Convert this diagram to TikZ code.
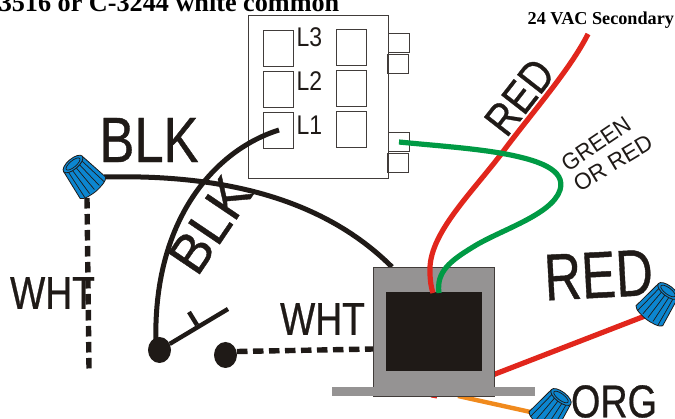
\documentclass[tikz,border=0pt]{standalone}
\usepackage{fontspec}
\usepackage{graphicx}
\setmainfont{Liberation Serif}
\newfontfamily\lsans{Liberation Sans}
\newfontfamily\lsansh[FakeBold=0.7]{Liberation Sans}
\usetikzlibrary{shapes.geometric}
\definecolor{ink}{HTML}{1F1A17}
\definecolor{wred}{HTML}{E1261C}
\definecolor{wgreen}{HTML}{009A44}
\definecolor{worange}{HTML}{F08A1D}
\definecolor{nutblue}{HTML}{0C86D0}
\definecolor{tgrey}{HTML}{959393}
\newcommand{\lbl}[3]{\scalebox{#2}[1]{\lsans\fontsize{#1}{#1}\selectfont #3}}
\newcommand{\lblh}[3]{\scalebox{#2}[1]{\lsansh\fontsize{#1}{#1}\selectfont #3}}
\tikzset{
  x=1pt,y=-1pt,
  outline/.style={draw=ink!85,line width=.8pt,fill=none,inner sep=0pt,outer sep=0pt},
  solidfill/.style={inner sep=0pt,outer sep=0pt},
  wirek/.style={draw=ink,line width=5pt},
  wirer/.style={draw=wred,line width=5.2pt},
  wireg/.style={draw=wgreen,line width=5.2pt},
  dashk/.style={draw=ink,line width=5.4pt,dash pattern=on 10.5pt off 5.5pt},
  txt/.style={inner sep=0pt,outer sep=0pt,text=ink},
  term/.style={ellipse,fill=ink,inner sep=0pt,outer sep=0pt,minimum width=23pt,minimum height=26pt},
  pics/nut/.style={code={
    \path[fill=nutblue,draw=ink,line width=.8pt,line join=round]
      (0,-10.5) -- (27,-14.5) .. controls (30,-13) and (31,-4) .. (31,0)
      .. controls (31,4) and (30,13) .. (27,14.5) -- (0,10.5) -- cycle;
    \foreach \s in {-7.5,-3.8,0,3.8,7.5}{
      \draw[ink,line width=.7pt] (2,\s) -- (29,{\s*1.45});
    }
    \path[fill=nutblue,draw=ink,line width=.8pt] (0,0) ellipse [x radius=4.6,y radius=10.6];
    \path[draw=ink,line width=.7pt] (0,0) ellipse [x radius=2.8,y radius=7.6];
  }}
}
\begin{document}
\begin{tikzpicture}
\useasboundingbox (0,0) rectangle (675,419);
\clip (0,0) rectangle (675,419);

% header texts
\node[inner sep=0pt,anchor=base east,text=black] (title) at (339.5,11.5) {\fontsize{26.2}{28}\selectfont\bfseries 3516 or C-3244 white common};
\node[inner sep=0pt,anchor=base west,text=black] (sec) at (527.5,25) {\fontsize{18.2}{20}\selectfont\bfseries 24 VAC Secondary};

% relay
\node[outline,fill=white,minimum width=139.5pt,minimum height=162.5pt] (relay) at (318.25,96.75) {};
\node[outline,minimum width=30.5pt,minimum height=36pt] (sl3) at (278.25,48) {};
\node[outline,minimum width=30.5pt,minimum height=36pt] (sl2) at (278.25,89) {};
\node[outline,minimum width=30.5pt,minimum height=36pt] (sl1) at (278.25,130) {};
\node[outline,minimum width=30pt,minimum height=36pt] (sr3) at (351,47) {};
\node[outline,minimum width=30pt,minimum height=36pt] (sr2) at (351,88) {};
\node[outline,minimum width=30pt,minimum height=36pt] (sr1) at (351,129) {};
\node[outline,minimum width=21pt,minimum height=19pt] (ta) at (398.5,42.5) {};
\node[outline,minimum width=21pt,minimum height=19pt] (tb) at (398,63.5) {};
\node[outline,minimum width=21pt,minimum height=19pt] (tc) at (398.5,142) {};
\node[outline,minimum width=21pt,minimum height=19pt] (td) at (398,163) {};
\node[txt,anchor=west] (l3) at (296.5,37) {\lbl{27}{.85}{L3}};
\node[txt,anchor=west] (l2) at (296.5,81) {\lbl{27}{.85}{L2}};
\node[txt,anchor=west] (l1) at (296.5,125) {\lbl{27}{.85}{L1}};

% named wire ends
\coordinate (l1end) at (279,130);
\coordinate (swroot) at (156,345);
\coordinate (nutL) at (104,177);
\coordinate (tTopL) at (392,267);
\coordinate (redTop) at (588,34);
\coordinate (redMid) at (502,153);
\coordinate (coreR) at (433,293);
\coordinate (greenStart) at (399,142);
\coordinate (coreG) at (439,293);
\coordinate (nutDashTop) at (87,198);
\coordinate (nutDashEnd) at (89,369);
\coordinate (bladeEnd) at (228,309);
\coordinate (tickA) at (197,325);
\coordinate (tickB) at (189,312);
\coordinate (swOut) at (237,351.5);
\coordinate (tLeft) at (374,349);
\coordinate (tRight) at (490,376);
\coordinate (nutR) at (645,316);
\coordinate (tBot) at (458,396);
\coordinate (nutO) at (535,413);
\coordinate (stubA) at (431,396);
\coordinate (stubB) at (437,397);

% secondary stubs below the transformer
\draw[wirer,line width=3pt] (stubA) -- (stubB);
\draw[draw=worange,line width=4.4pt] (tBot) -- (nutO);
\draw[wirer] (tRight) -- (nutR);

% black wires
\draw[wirek] (nutL) .. controls (190,175) and (310,185) .. (tTopL);
\draw[wirek] (l1end) .. controls (215,150) and (152,220) .. (swroot);
\draw[dashk] (nutDashTop) -- (nutDashEnd);

% switch
\node[term] (sw1) at (159.5,350) {};
\node[term] (sw2) at (225.5,355) {};
\draw[draw=ink,line width=4.4pt] (sw1) -- (bladeEnd);
\draw[draw=ink,line width=4.4pt] (tickA) -- (tickB);
\draw[dashk] (swOut) -- (tLeft);

% transformer
\node[solidfill,draw=ink!85,line width=.7pt,fill=tgrey,minimum width=121pt,minimum height=129pt] (xfmr) at (433.5,331.5) {};
\node[solidfill,fill=tgrey,minimum width=203pt,minimum height=9.5pt] (base) at (433.5,391.75) {};
\node[solidfill,fill=ink,minimum width=96.5pt,minimum height=78.5pt] (core) at (433.75,331.75) {};

% primary wires
\draw[wirer] (redTop) .. controls (570,70) and (530,115) .. (redMid)
  .. controls (470,195) and (428,235) .. (430,272) .. controls (430,280) and (431,287) .. (coreR);
\draw[wireg] (greenStart) .. controls (440,146) and (470,148) .. (500,153)
  .. controls (540,160) and (566,170) .. (560,190)
  .. controls (552,215) and (500,230) .. (473,247)
  .. controls (450,261) and (436,272) .. (coreG);

% wire nuts
\pic[rotate=-50,scale=1.15] at (73,164) {nut};
\pic[rotate=-127,scale=1.15] at (668,291) {nut};
\pic[rotate=-127,scale=1.15] at (561,397) {nut};

% labels
\node[txt] (blk1) at (149,140) {\lblh{64}{.82}{BLK}};
\node[txt,rotate=56] (blk2) at (210,225) {\lblh{55}{.98}{BLK}};
\node[txt] (wht1) at (52.5,293) {\lblh{46}{.81}{WHT}};
\node[txt] (wht2) at (322.5,319) {\lblh{46}{.81}{WHT}};
\node[txt,rotate=3] (red1) at (598.5,275) {\lblh{66}{.78}{RED}};
\node[txt] (org) at (614,401.5) {\lblh{46}{.82}{ORG}};
\node[txt,rotate=52] (red2) at (519.5,97) {\lblh{45}{.86}{RED}};
\node[txt,rotate=34] (grn) at (596,144) {\lbl{23}{.95}{GREEN}};
\node[txt,rotate=31] (orr) at (613,163) {\lbl{23}{.98}{OR RED}};
\end{tikzpicture}
\end{document}
